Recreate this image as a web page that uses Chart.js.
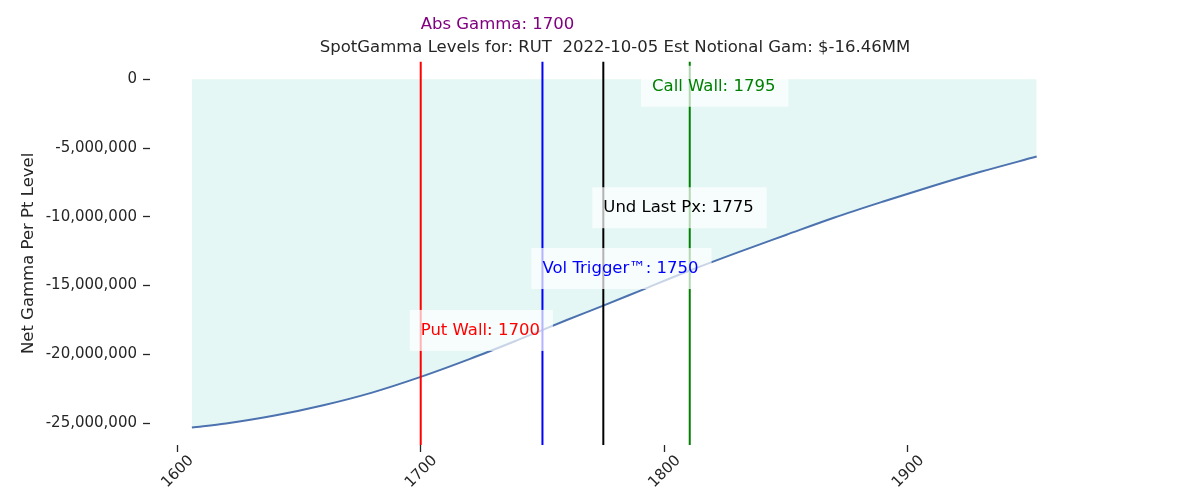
<!DOCTYPE html>
<html>
<head>
<meta charset="utf-8">
<script src="https://cdn.jsdelivr.net/npm/chart.js@4.4.0/dist/chart.umd.min.js"></script>
<style>
  html, body { margin: 0; padding: 0; background: #fff; }
</style>
</head>
<body>
<canvas id="gammaChart" width="1200" height="500"></canvas>
<script>
// strike levels and net gamma
const strikes = [1606, 1620, 1640, 1660, 1680, 1700, 1720, 1740, 1760, 1775,
                 1790, 1810, 1830, 1850, 1870, 1890, 1910, 1930, 1953];
const netGamma = [-25320000, -25020000, -24450000, -23700000, -22780000, -21640000,
                  -20350000, -18950000, -17500000, -16460000, -15380000, -13940000,
                  -12600000, -11320000, -10050000, -8890000, -7780000, -6730000, -5620000];

const xTicks = [1600, 1700, 1800, 1900];
const yTicks = [0, -5000000, -10000000, -15000000, -20000000, -25000000];

// vertical level lines
const levelValues = [1700, 1750, 1775, 1810.5];
const levelColors = ["#ff0000", "#0000ff", "#000000", "#008000"];

// level annotations
const labelTexts = ["Abs Gamma: 1700", "Put Wall: 1700", "Vol Trigger™: 1750", "Und Last Px: 1775", "Call Wall: 1795"];
const labelX = [1700, 1700, 1750, 1775, 1795];
const labelY = [3980000, -18260000, -13760000, -9340000, -510000];
const labelColors = ["#800080", "#ff0000", "#0000ff", "#000000", "#008000"];
const labelBoxed = [false, true, true, true, true];

const chartTitle = "SpotGamma Levels for: RUT  2022-10-05 Est Notional Gam: $-16.46MM";
const yTitle = "Net Gamma Per Pt Level";

Chart.defaults.font.family = "'DejaVu Sans', sans-serif";
Chart.defaults.color = "#262626";

const levelPlugin = {
  id: "levels",
  afterDatasetsDraw(chart) {
    const { ctx, chartArea, scales: { x, y } } = chart;
    ctx.save();
    levelValues.forEach((v, i) => {
      const px = x.getPixelForValue(v);
      ctx.strokeStyle = levelColors[i];
      ctx.lineWidth = 2;
      ctx.beginPath();
      ctx.moveTo(px, chartArea.top);
      ctx.lineTo(px, chartArea.bottom);
      ctx.stroke();
    });
    ctx.font = "16.5px 'DejaVu Sans'";
    ctx.textBaseline = "middle";
    ctx.textAlign = "left";
    labelTexts.forEach((t, i) => {
      const px = x.getPixelForValue(labelX[i]);
      const py = y.getPixelForValue(labelY[i]);
      const w = ctx.measureText(t).width;
      if (labelBoxed[i]) {
        ctx.fillStyle = "rgba(255,255,255,0.7)";
        ctx.fillRect(px - 11, py - 20.5, w + 24, 41);
      }
      ctx.fillStyle = labelColors[i];
      ctx.fillText(t, px, py);
    });
    ctx.restore();
  }
};

const data = {
  datasets: [{
    data: strikes.map((s, i) => ({ x: s, y: netGamma[i] })),
    borderColor: "#4c72b0",
    borderWidth: 2,
    backgroundColor: "#e4f7f4",
    fill: "origin",
    pointRadius: 0,
    cubicInterpolationMode: "monotone"
  }]
};

const config = {
  type: "line",
  data,
  plugins: [levelPlugin],
  options: {
    responsive: false,
    animation: false,
    devicePixelRatio: 1,
    layout: { padding: { left: 0, right: 120, top: 0, bottom: 0 } },
    plugins: {
      legend: { display: false },
      tooltip: { enabled: false },
      title: {
        display: true,
        text: chartTitle,
        fullSize: false,
        color: "#262626",
        font: { size: 16.5, weight: "normal" },
        padding: { top: 38, bottom: 4 }
      }
    },
    scales: {
      x: {
        type: "linear",
        min: 1588.8,
        max: 1970.8,
        afterBuildTicks: (s) => { s.ticks = xTicks.map(v => ({ value: v })); },
        afterFit: (s) => { s.height = 55; },
        border: { display: false },
        grid: { display: true, drawOnChartArea: false, drawTicks: true, tickLength: 7, tickWidth: 1.3, tickColor: "#262626" },
        ticks: {
          minRotation: 45,
          maxRotation: 45,
          labelOffset: 14,
          padding: 0,
          color: "#262626",
          font: { size: 15 },
          callback: (v) => String(v)
        }
      },
      y: {
        min: -26590000,
        max: 1270000,
        afterBuildTicks: (s) => { s.ticks = yTicks.map(v => ({ value: v })); },
        afterFit: (s) => { s.width = 150; },
        border: { display: false },
        grid: { display: true, drawOnChartArea: false, drawTicks: true, tickLength: 7, tickWidth: 1.3, tickColor: "#262626" },
        ticks: {
          padding: 6,
          color: "#262626",
          font: { size: 15 },
          callback: (v) => v.toLocaleString("en-US")
        },
        title: {
          display: true,
          text: yTitle,
          color: "#262626",
          font: { size: 16.5 },
          padding: { top: 19, bottom: 0 }
        }
      }
    }
  }
};

const chart = new Chart(document.getElementById("gammaChart"), config);
</script>
</body>
</html>
